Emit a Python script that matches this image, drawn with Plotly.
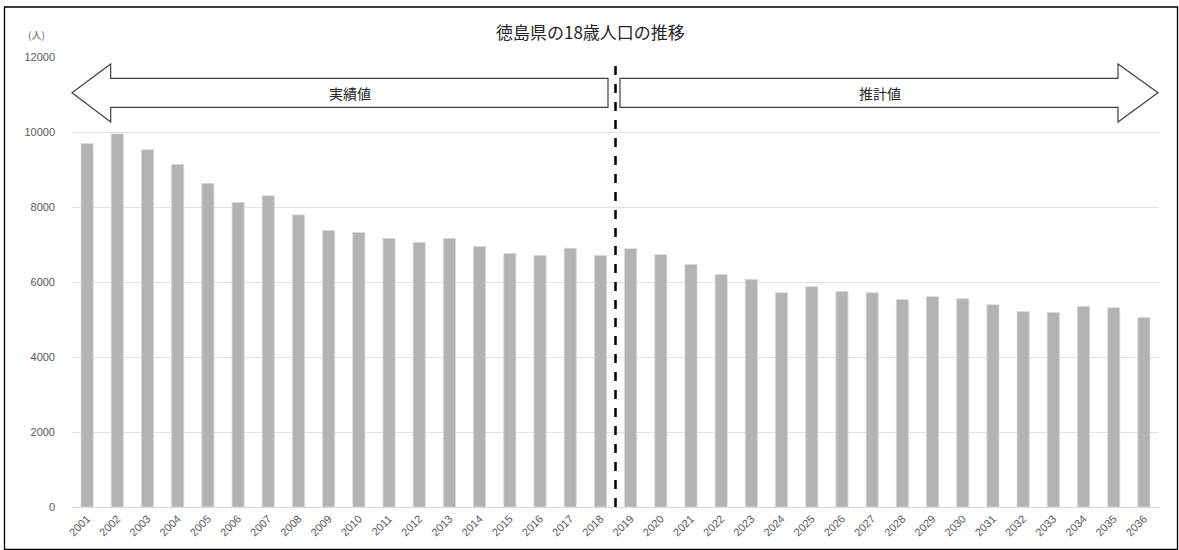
import plotly.graph_objects as go

# ---- data ----
years = [str(y) for y in range(2001, 2037)]
population = [9690, 9950, 9525, 9135, 8625, 8120, 8300, 7790, 7375, 7320,
              7160, 7055, 7160, 6945, 6760, 6705, 6900, 6710,
              6890, 6730, 6465, 6200, 6065, 5715, 5875, 5745, 5715, 5530,
              5610, 5555, 5395, 5210, 5185, 5345, 5315, 5050]
y_ticks = [0, 2000, 4000, 6000, 8000, 10000, 12000]
title_text = "徳島県の18歳人口の推移"
unit_text = "(人)"
label_actual = "実績値"
label_forecast = "推計値"
split_after = "2018"

W, H = 1179, 550
L, R, T, B = 72, 20, 57, 43
PW, PH = W - L - R, H - T - B


def px(x):
    return (x - L) / PW


def py(y):
    return (H - B - y) / PH


fig = go.Figure()
fig.add_trace(go.Bar(
    x=years, y=population,
    marker=dict(color="#b3b3b3", line=dict(color="#d6d6d6", width=0.8)),
    hoverinfo="x+y",
))

cjk = "Noto Sans CJK JP"
num_font = "Liberation Sans"

shapes = []
# outer frame
shapes.append(dict(type="rect", xref="paper", yref="paper",
                   x0=px(4.5), x1=px(1177.5), y0=py(549.5), y1=py(7),
                   line=dict(color="#000000", width=1.3), fillcolor="rgba(0,0,0,0)",
                   layer="above"))
# extend gridlines slightly left like the reference
# divider between actual and forecast
split_idx = years.index(split_after) + 0.5
shapes.append(dict(type="line", xref="x", yref="paper",
                   x0=split_idx, x1=split_idx, y0=0, y1=py(58),
                   line=dict(color="#000000", width=2.5, dash="dash")))

# arrows (decorations)
tipy = 92.7
head_top, head_bot = 64, 122
body_top, body_bot = 78.3, 107.3


def path(points):
    s = "M " + " L ".join(f"{px(a):.5f},{py(b):.5f}" for a, b in points) + " Z"
    return s


left_pts = [(72, tipy), (110.7, head_top), (110.7, body_top), (608, body_top),
            (608, body_bot), (110.7, body_bot), (110.7, head_bot)]
right_pts = [(1158, tipy), (1118, head_top), (1118, body_top), (620, body_top),
             (620, body_bot), (1118, body_bot), (1118, head_bot)]
for pts in (left_pts, right_pts):
    shapes.append(dict(type="path", xref="paper", yref="paper", path=path(pts),
                       line=dict(color="#404040", width=1.2), fillcolor="#ffffff",
                       layer="above"))


def ann(text, x, y, size, color="#262626"):
    return dict(text=text, x=px(x), y=py(y), xref="paper", yref="paper",
                xanchor="center", yanchor="middle", showarrow=False,
                font=dict(family=cjk, size=size, color=color))


annotations = [
    ann(title_text, 590, 31, 17),
    ann(unit_text, 36, 35, 10, "#595959"),
    ann(label_actual, 350, 93, 14),
    ann(label_forecast, 880, 93, 14),
]

fig.update_layout(
    width=W, height=H,
    margin=dict(l=L, r=R, t=T, b=B, pad=0),
    paper_bgcolor="#ffffff", plot_bgcolor="#ffffff",
    showlegend=False,
    bargap=0.6,
    shapes=shapes,
    annotations=annotations,
    xaxis=dict(type="category", tickangle=-45, automargin=False,
               tickfont=dict(family=num_font, size=11, color="#595959"),
               showline=True, linecolor="#d9d9d9", linewidth=1,
               ticks="", showgrid=False),
    yaxis=dict(range=[0, 12000], tickvals=y_ticks, tickformat="d", automargin=False,
               tickfont=dict(family=num_font, size=11, color="#595959"),
               gridcolor="#e3e3e3", gridwidth=1, zeroline=False,
               showline=False, ticks="", ticklabelstandoff=16),
)

fig.write_html("out.html", config={"displayModeBar": False},
               post_script="document.body.style.margin='0';document.body.style.overflow='hidden';")
